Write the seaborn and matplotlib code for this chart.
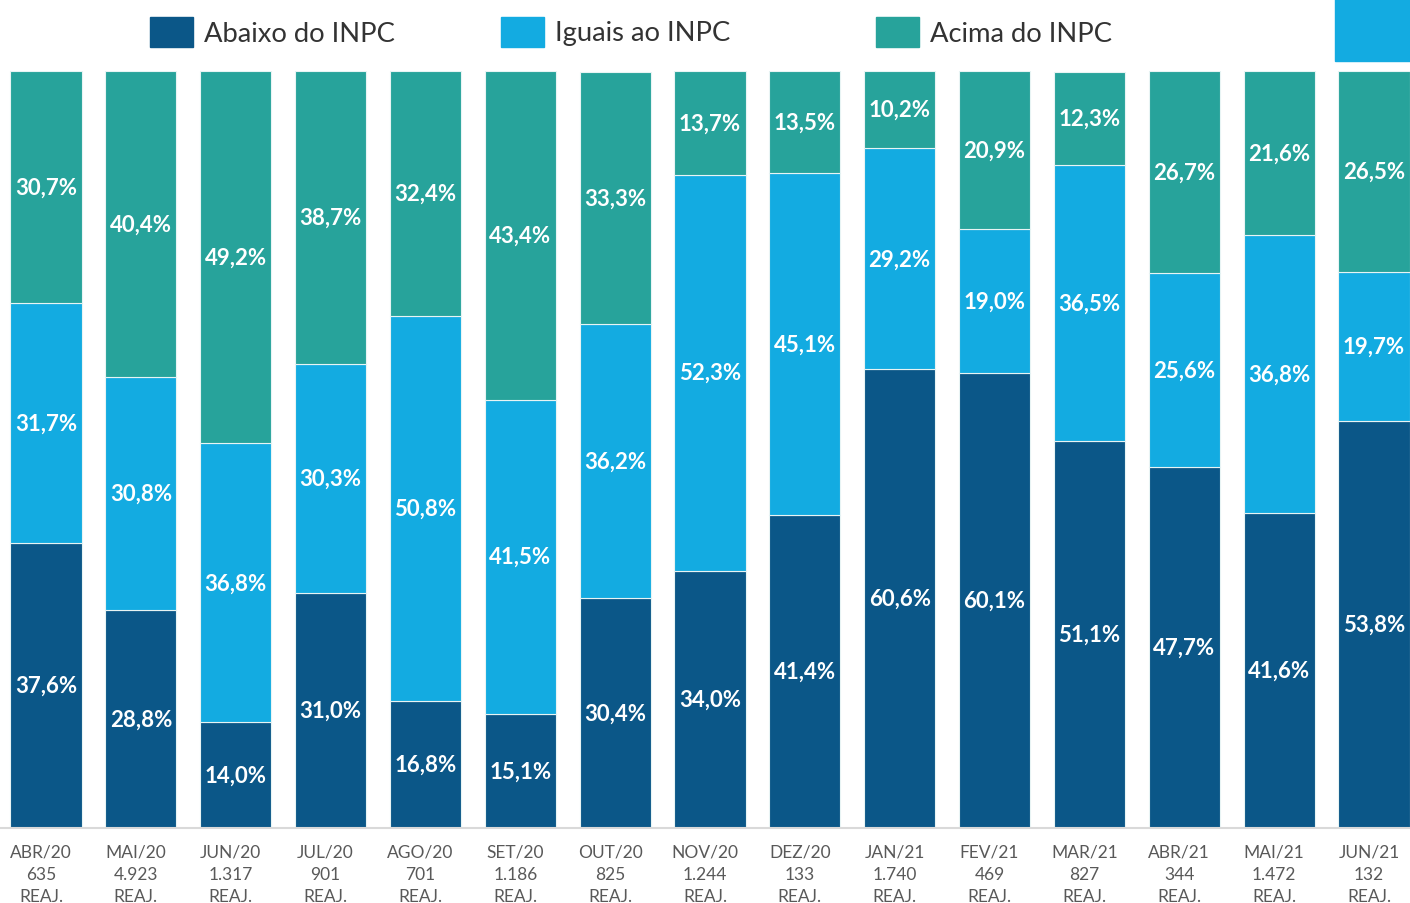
import numpy as np
import pandas as pd
import seaborn as sns
import matplotlib.pyplot as plt
from matplotlib.patches import Rectangle
from matplotlib.transforms import ScaledTranslation

months = ["ABR/20", "MAI/20", "JUN/20", "JUL/20", "AGO/20", "SET/20", "OUT/20", "NOV/20",
          "DEZ/20", "JAN/21", "FEV/21", "MAR/21", "ABR/21", "MAI/21", "JUN/21"]
counts = ["635", "4.923", "1.317", "901", "701", "1.186", "825", "1.244",
          "133", "1.740", "469", "827", "344", "1.472", "132"]
abaixo = [37.6, 28.8, 14.0, 31.0, 16.8, 15.1, 30.4, 34.0, 41.4, 60.6, 60.1, 51.1, 47.7, 41.6, 53.8]
iguais = [31.7, 30.8, 36.8, 30.3, 50.8, 41.5, 36.2, 52.3, 45.1, 29.2, 19.0, 36.5, 25.6, 36.8, 19.7]
acima = [30.7, 40.4, 49.2, 38.7, 32.4, 43.4, 33.3, 13.7, 13.5, 10.2, 20.9, 12.3, 26.7, 21.6, 26.5]

series_names = ["Abaixo do INPC", "Iguais ao INPC", "Acima do INPC"]
colors = ["#0b5788", "#13abe1", "#27a39b"]

labels = [f"{m}\n{c}\nREAJ." for m, c in zip(months, counts)]
df = pd.DataFrame({"mes": labels, "abaixo": abaixo, "iguais": iguais, "acima": acima})

sns.set_style("white")
plt.rcParams["font.family"] = ["Lato", "DejaVu Sans"]

fig = plt.figure(figsize=(14.1, 9.04), dpi=100)
ax = fig.add_axes([0, 75 / 904, 1, (829 - 72) / 904])

bottom = np.zeros(len(df))
for col, name, colr in zip(["abaixo", "iguais", "acima"], series_names, colors):
    sns.barplot(data=df, x="mes", y=col, color=colr, width=0.75, bottom=bottom,
                edgecolor="#e8f4f4", linewidth=0.8, ax=ax, saturation=1)
    ax.bar_label(ax.containers[-1], labels=[f"{v:.1f}%".replace(".", ",") for v in df[col]],
                 label_type="center", color="white", fontsize=16, fontweight="bold")
    bottom = bottom + df[col].values

ax.set_xlim(-0.485, 14.38)
ax.set_ylim(0, 100)
ax.set_xlabel("")
ax.set_ylabel("")
ax.set_yticks([])
ax.tick_params(axis="x", length=0, pad=11, labelsize=12.5, labelcolor="#595959")
shift = ScaledTranslation(-5 / 100, 0, fig.dpi_scale_trans)
for t in ax.get_xticklabels():
    t.set_linespacing(1.5)
    t.set_transform(t.get_transform() + shift)
for s in ["top", "left", "right"]:
    ax.spines[s].set_visible(False)
ax.spines["bottom"].set_color("#d9d9d9")
ax.spines["bottom"].set_linewidth(1.5)

# legend
W, H = 1410, 904
for x0, name, colr in zip([150, 501, 876], series_names, colors):
    fig.add_artist(Rectangle((x0 / W, 1 - 48 / H), 43 / W, 30 / H, color=colr,
                             transform=fig.transFigure))
    fig.text((x0 + 54) / W, 1 - 34 / H, name, fontsize=19.7, color="#333333",
             va="center", ha="left")

fig.add_artist(Rectangle((1335 / W, 1 - 62 / H), 75 / W, 62 / H, color="#13abe1",
                         transform=fig.transFigure))

fig.savefig("out.png", dpi=100)
